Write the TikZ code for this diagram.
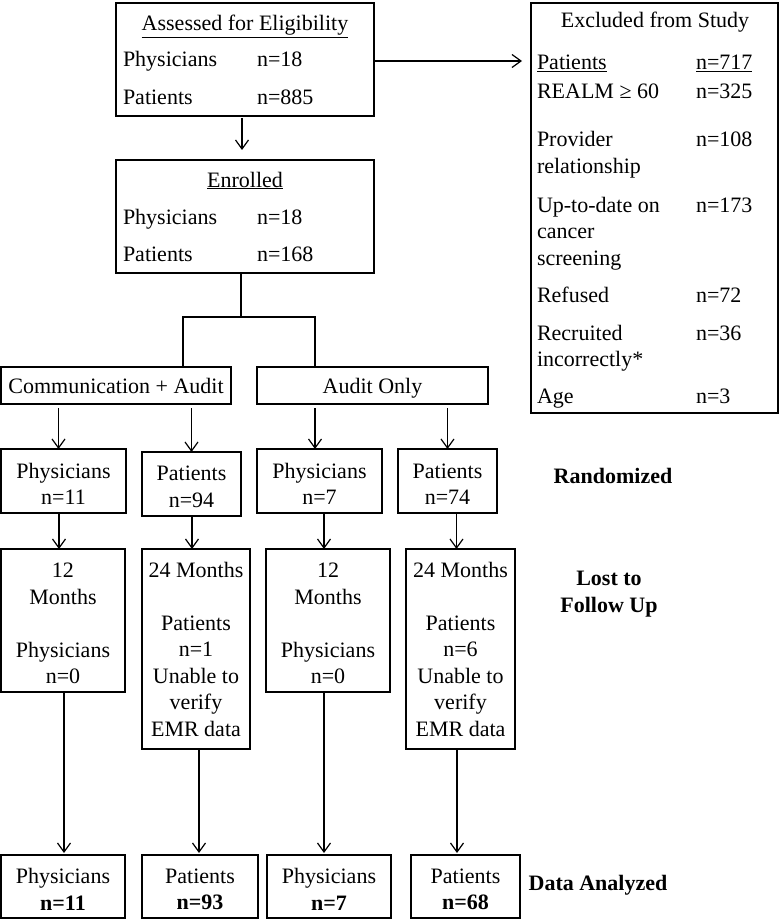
\documentclass[tikz,border=0pt]{standalone}
\usepackage{fontspec}
\setmainfont{Liberation Serif}
\usetikzlibrary{arrows.meta}
\newcommand\bx[7][]{%
  \node[box,minimum width={#5-#3},minimum height={#6-#4}] (#2) at ({(#3+#5)/2},{(#4+#6)/2}) {};%
  \node[align=center,yshift=-3pt,#1] (#2t) at (#2.center) {#7};}
\begin{document}
\begin{tikzpicture}[x=1pt,y=-1pt,
  every node/.style={font=\fontsize{22}{26.5}\selectfont, inner sep=0pt, outer sep=0pt},
  box/.style={draw, line width=1.2pt},
  ln/.style={line width=1.2pt},
  arr/.style={line width=1.2pt, -{Straight Barb[length=9pt,width=13pt,line width=1.2pt]}},
  lbl/.style={font=\fontsize{22}{26.5}\selectfont\bfseries}]
\useasboundingbox (0,0) rectangle (780,920);

% top boxes
\bx{assess}{116}{3}{374}{116}{}
\bx{enrol}{116}{160}{374}{273}{}
\bx{excl}{531}{3}{778}{413}{}

\node[anchor=base] (ta) at (245,31) {\underline{Assessed for Eligibility}};
\node[anchor=base west] (ta1) at (123,67) {Physicians};
\node[anchor=base west] (ta2) at (257,67) {n=18};
\node[anchor=base west] (ta3) at (123,105) {Patients};
\node[anchor=base west] (ta4) at (257,105) {n=885};

\node[anchor=base] (te) at (245,187) {\underline{Enrolled}};
\node[anchor=base west] (te1) at (123,224) {Physicians};
\node[anchor=base west] (te2) at (257,224) {n=18};
\node[anchor=base west] (te3) at (123,261) {Patients};
\node[anchor=base west] (te4) at (257,261) {n=168};

\node[anchor=base] (tx) at (655,28) {Excluded from Study};
\node[anchor=base west] (tx1) at (537,70) {\underline{Patients}};
\node[anchor=base west] (tx2) at (696,70) {\underline{n=717}};
\node[anchor=base west] (tx3) at (537,99) {REALM ≥ 60};
\node[anchor=base west] (tx4) at (696,99) {n=325};
\node[anchor=base west] (tx5) at (537,147) {Provider};
\node[anchor=base west] (tx6) at (537,173.5) {relationship};
\node[anchor=base west] (tx7) at (696,147) {n=108};
\node[anchor=base west] (tx8) at (537,212) {Up-to-date on};
\node[anchor=base west] (tx9) at (537,238.5) {cancer};
\node[anchor=base west] (tx10) at (537,265) {screening};
\node[anchor=base west] (tx11) at (696,212) {n=173};
\node[anchor=base west] (tx12) at (537,302) {Refused};
\node[anchor=base west] (tx13) at (696,302) {n=72};
\node[anchor=base west] (tx14) at (537,340) {Recruited};
\node[anchor=base west] (tx15) at (537,366.5) {incorrectly*};
\node[anchor=base west] (tx16) at (696,340) {n=36};
\node[anchor=base west] (tx17) at (537,403) {Age};
\node[anchor=base west] (tx18) at (696,403) {n=3};

% group boxes
\bx[anchor=base,yshift=-4.5pt]{comm}{1}{367}{231}{404}{Communication + Audit}
\bx[anchor=base,yshift=-4.5pt]{audit}{257}{367}{488}{404}{Audit Only}

% randomized
\bx{r1}{1}{449}{126}{513}{Physicians\\n=11}
\bx{r2}{142}{452}{241}{516}{Patients\\n=94}
\bx{r3}{257}{449}{382}{513}{Physicians\\n=7}
\bx{r4}{398}{449}{497}{513}{Patients\\n=74}

% lost to follow up
\bx{l1}{1}{549}{125}{692}{12\\Months\\[26.5pt]Physicians\\n=0}
\bx[yshift=3pt]{l2}{142}{549}{250}{749}{24 Months\\[26.5pt]Patients\\n=1\\Unable to\\verify\\EMR data}
\bx{l3}{266}{549}{390}{692}{12\\Months\\[26.5pt]Physicians\\n=0}
\bx[yshift=3pt]{l4}{406}{549}{515}{749}{24 Months\\[26.5pt]Patients\\n=6\\Unable to\\verify\\EMR data}

% final
\bx{f1}{1}{855}{125}{918}{Physicians\\\textbf{n=11}}
\bx{f2}{142}{855}{258}{918}{Patients\\\textbf{n=93}}
\bx{f3}{267}{855}{391}{918}{Physicians\\\textbf{n=7}}
\bx{f4}{411}{855}{520}{918}{Patients\\\textbf{n=68}}

% side labels
\node[lbl, anchor=base] (rand) at (613,483) {Randomized};
\node[lbl, anchor=base] (lost1) at (609,585) {Lost to};
\node[lbl, anchor=base] (lost2) at (609,612) {Follow Up};
\node[lbl, anchor=base] (data) at (598,890) {Data Analyzed};

% connectors
\draw[arr, shorten >=9pt] ([yshift=-1.5pt]assess.east) -- ([yshift=-1.5pt]assess.east -| excl.west);
\coordinate (s0) at ([xshift=-3pt]assess.south);
\draw[arr, shorten <=2pt, shorten >=10pt] (s0) -- (s0 |- enrol.north);

\coordinate (jl) at (183,317);
\coordinate (jr) at (315,317);
\coordinate (s1) at ([xshift=-4pt]enrol.south);
\draw[ln] (s1) -- (s1 |- jl);
\draw[ln] (jl |- comm.north) -- (jl) -- (jr) -- (jr |- audit.north);

\coordinate (a1) at ([xshift=-5pt]r1.north);
\coordinate (a2) at (r2.north);
\coordinate (a3) at ([xshift=-4.5pt]r3.north);
\coordinate (a4) at (r4.north);
\draw[arr, shorten <=4pt] (a1 |- comm.south) -- (a1);
\draw[arr, shorten <=4pt] (a2 |- comm.south) -- (a2);
\draw[arr, shorten <=4pt] (a3 |- audit.south) -- (a3);
\draw[arr, shorten <=4pt] (a4 |- audit.south) -- (a4);

\coordinate (b1) at ([xshift=-4pt]l1.north);
\coordinate (b2) at ([xshift=-4pt]l2.north);
\coordinate (b3) at ([xshift=-4pt]l3.north);
\coordinate (b4) at ([xshift=-4pt]l4.north);
\draw[arr] (b1 |- r1.south) -- (b1);
\draw[arr] (b2 |- r2.south) -- (b2);
\draw[arr] (b3 |- r3.south) -- (b3);
\draw[arr] (b4 |- r4.south) -- (b4);

\coordinate (c1) at ([xshift=1pt]l1.south);
\coordinate (c2) at ([xshift=3pt]l2.south);
\coordinate (c3) at ([xshift=-4pt]l3.south);
\coordinate (c4) at ([xshift=-3.5pt]l4.south);
\draw[arr, shorten >=2pt] (c1) -- (c1 |- f1.north);
\draw[arr, shorten >=2pt] (c2) -- (c2 |- f2.north);
\draw[arr, shorten >=2pt] (c3) -- (c3 |- f3.north);
\draw[arr, shorten >=2pt] (c4) -- (c4 |- f4.north);
\end{tikzpicture}
\end{document}
